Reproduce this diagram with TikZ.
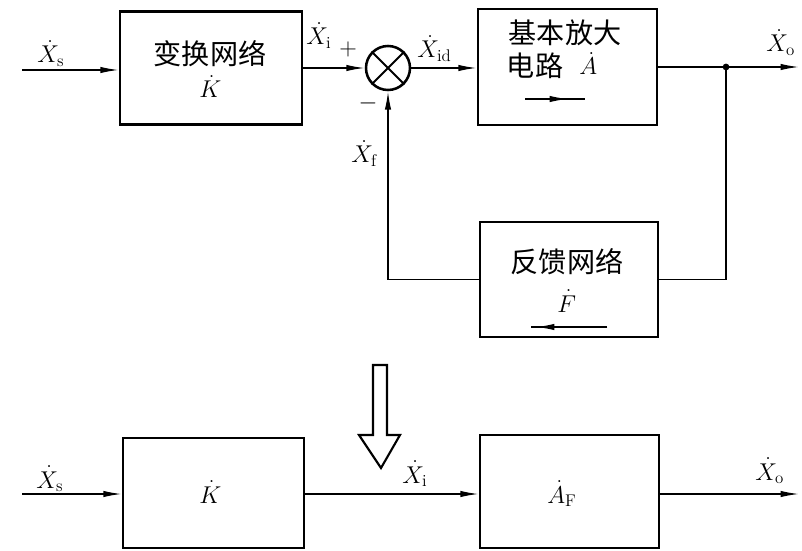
\documentclass[tikz,border=0pt]{standalone}
\usepackage{fontspec}
\newfontfamily\cjk{Noto Sans CJK SC}
\usetikzlibrary{arrows.meta}
\begin{document}
\begin{tikzpicture}[x=0.025cm,y=-0.025cm,
  blk/.style={draw, line width=1.8pt, inner sep=0pt},
  conn/.style={line width=1pt},
  tip/.style={-{Latex[length=13pt,width=4.5pt]}},
  cjktxt/.style={inner sep=0pt, font=\cjk\fontsize{20}{24}\selectfont},
  lbl/.style={inner sep=0pt, font=\fontsize{17.28}{20}\selectfont},
  sgn/.style={inner sep=0pt, font=\fontsize{17.28}{20}\selectfont}]
\fill[white] (0,0) rectangle (802,551);
\useasboundingbox (0,0) rectangle (802,551);

% ---------- top diagram ----------
\node[blk, minimum width=4.55cm, minimum height=2.83cm] (k1) at (211,68) {};
\node[blk, minimum width=4.475cm, minimum height=2.9cm] (a1) at (567.5,67) {};
\node[blk, minimum width=4.45cm, minimum height=2.875cm] (f1) at (569,279.5) {};
\node[draw, circle, line width=1.8pt, minimum size=1.1cm, inner sep=0pt] (c) at (388,68) {};
\draw[line width=1.4pt] (c.45) -- (c.225) (c.135) -- (c.315);

\node[cjktxt] (t1) at (210,54) {变换网络};
\node[lbl, anchor=base west] (t2) at (199,98) {$\dot{K}$};
\node[cjktxt] (t3) at (565,33) {基本放大};
\node[cjktxt] (t4) at (535,66) {电路};
\node[lbl, anchor=base west] (t5) at (579,75) {$\dot{A}$};
\node[cjktxt] (t6) at (567,262) {反馈网络};
\node[lbl, anchor=base west] (t7) at (557,312) {$\dot{F}$};

\coordinate (in1) at (22,70);
\coordinate (j) at (726,67);
\coordinate (o1) at (799,67);

\draw[conn, tip] (in1) -- (in1 -| k1.west);
\draw[conn, tip] (k1.east |- c.west) -- (c.west);
\draw[conn, tip] (c.east) -- (c.east -| a1.west);
\draw[conn] (a1.east) -- (j);
\draw[conn, tip] (j) -- (o1);
\fill (j) circle (2.4pt);
\draw[conn] (j) |- (f1.east);
\draw[conn, tip] (f1.west) -| (c.south);

% small arrows inside boxes
\coordinate (ar1) at (525,99);
\coordinate (ar2) at (568,99);
\coordinate (ar3) at (585,99);
\draw[conn] (ar1) -- (ar3);
\draw[conn, tip] (ar1) -- (ar2);
\coordinate (fr1) at (607,327);
\coordinate (fr2) at (536,327);
\coordinate (fr3) at (531,327);
\draw[conn] (fr1) -- (fr3);
\draw[conn, tip] (fr1) -- (fr2);

% labels
\node[lbl, anchor=base west] (ls) at (37,63) {$\dot{X}_{\mathrm{s}}$};
\node[lbl, anchor=base west] (li) at (306,45) {$\dot{X}_{\mathrm{i}}$};
\node[sgn] (plus) at (348,49) {$+$};
\node[sgn] (minus) at (368,103) {$-$};
\node[lbl, anchor=base west] (lid) at (417,58) {$\dot{X}_{\mathrm{id}}$};
\node[lbl, anchor=base west] (lo) at (766,52) {$\dot{X}_{\mathrm{o}}$};
\node[lbl, anchor=base west] (lf) at (351,163) {$\dot{X}_{\mathrm{f}}$};

% ---------- hollow arrow ----------
\draw[line width=1.5pt, line join=miter] (373,365) -- (387,365) -- (387,435) -- (400,435)
  -- (381,468) -- (359,435) -- (373,435) -- cycle;

% ---------- bottom diagram ----------
\node[blk, minimum width=4.525cm, minimum height=2.75cm] (k2) at (213.5,493) {};
\node[blk, minimum width=4.475cm, minimum height=2.825cm] (a2) at (569.5,491.5) {};
\node[lbl, anchor=base west] (t8) at (199,503) {$\dot{K}$};
\node[lbl, anchor=base west] (t9) at (547,503) {$\dot{A}_{\mathrm{F}}$};

\coordinate (in2) at (22,494);
\coordinate (o2) at (799,494);
\draw[conn, tip] (in2) -- (in2 -| k2.west);
\draw[conn, tip] (k2.east |- in2) -- (in2 -| a2.west);
\draw[conn, tip] (a2.east |- o2) -- (o2);

\node[lbl, anchor=base west] (ls2) at (36,488) {$\dot{X}_{\mathrm{s}}$};
\node[lbl, anchor=base west] (li2) at (402,483) {$\dot{X}_{\mathrm{i}}$};
\node[lbl, anchor=base west] (lo2) at (755,480) {$\dot{X}_{\mathrm{o}}$};
\end{tikzpicture}
\end{document}
